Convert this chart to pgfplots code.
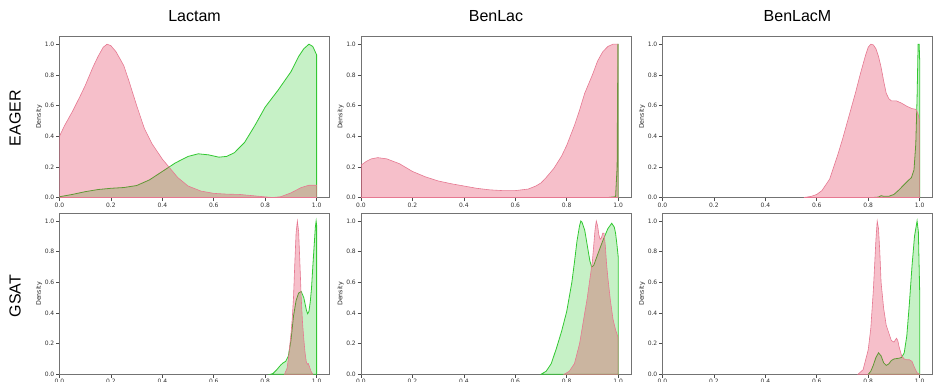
\documentclass[border=0pt]{standalone}
\usepackage{fontspec}
\setmainfont{DejaVu Sans}
\newfontfamily\titlefont{Liberation Sans}
\usepackage{pgfplots}
\pgfplotsset{compat=1.18}
\definecolor{pinkfill}{RGB}{220,20,60}
\definecolor{pinkline}{RGB}{230,120,145}
\definecolor{greenfill}{RGB}{50,205,50}
\definecolor{greenline}{RGB}{50,200,50}
\pgfplotsset{
  kde/.style={
    scale only axis, width=270pt, height=161pt,
    xmin=0, xmax=1.05, ymin=0, ymax=1.05,
    xtick={0,0.2,0.4,0.6,0.8,1}, ytick={0,0.2,0.4,0.6,0.8,1},
    /pgf/number format/assume math mode=true,
    /pgf/number format/fixed, /pgf/number format/fixed zerofill,
    /pgf/number format/precision=1,
    tick align=outside, xtick pos=bottom, ytick pos=left,
    major tick length=3.5pt,
    tick style={black!70, line width=0.6pt},
    axis line style={black!55, line width=0.7pt},
    ticklabel style={font=\fontsize{6}{7}\selectfont, text=black!80},
    yticklabel style={inner sep=1.5pt},
    xticklabel style={inner sep=1.5pt},
    ylabel={Density}, ylabel style={font=\fontsize{6.3}{7.3}\selectfont, text=black!85, yshift=-2.5pt},
  },
  gr/.style={draw=greenline, line width=0.8pt, fill=greenfill, fill opacity=0.28},
  pk/.style={draw=pinkline, line width=0.6pt, fill=pinkfill, fill opacity=0.27},
}
\begin{document}
\begin{tikzpicture}
% Row 1 ---------------------------------------------------------
\begin{axis}[kde, at={(59.5pt,183.5pt)}, anchor=south west]
\addplot[gr] coordinates {(0,0.005)(0.05,0.02)(0.1,0.038)(0.15,0.052)(0.2,0.06)(0.25,0.065)(0.3,0.078)(0.35,0.115)(0.4,0.17)(0.45,0.225)(0.5,0.268)(0.54,0.285)(0.58,0.278)(0.62,0.263)(0.65,0.268)(0.68,0.292)(0.72,0.36)(0.76,0.47)(0.8,0.59)(0.85,0.7)(0.9,0.82)(0.93,0.92)(0.95,0.97)(0.97,1.0)(0.985,0.985)(1.0,0.93)} \closedcycle;
\addplot[pk] coordinates {(0,0.4)(0.02,0.47)(0.05,0.56)(0.08,0.66)(0.1,0.73)(0.13,0.85)(0.15,0.92)(0.17,0.98)(0.185,1.0)(0.2,0.99)(0.22,0.95)(0.25,0.86)(0.27,0.76)(0.3,0.6)(0.33,0.45)(0.36,0.35)(0.4,0.25)(0.43,0.19)(0.46,0.13)(0.5,0.075)(0.55,0.042)(0.6,0.027)(0.65,0.022)(0.7,0.02)(0.75,0.012)(0.8,0.004)(0.83,0.0)(0.86,0.005)(0.9,0.03)(0.94,0.065)(0.97,0.08)(1.0,0.08)} \closedcycle;
\end{axis}
\begin{axis}[kde, at={(361pt,183.5pt)}, anchor=south west]
\addplot[gr] coordinates {(0.96,0)(0.99,0.005)(0.996,0.2)(0.999,1.0)(1.0,1.0)} \closedcycle;
\addplot[pk] coordinates {(0,0.21)(0.02,0.235)(0.04,0.252)(0.065,0.26)(0.1,0.252)(0.15,0.22)(0.2,0.17)(0.25,0.135)(0.3,0.108)(0.35,0.09)(0.4,0.075)(0.45,0.06)(0.5,0.05)(0.55,0.045)(0.6,0.045)(0.65,0.055)(0.68,0.075)(0.7,0.095)(0.72,0.13)(0.75,0.19)(0.78,0.27)(0.8,0.34)(0.83,0.47)(0.85,0.57)(0.87,0.68)(0.9,0.8)(0.92,0.89)(0.94,0.95)(0.96,0.985)(0.98,1.0)(1.0,1.0)} \closedcycle;
\end{axis}
\begin{axis}[kde, at={(662.5pt,183.5pt)}, anchor=south west]
\addplot[gr] coordinates {(0.82,0)(0.84,0.003)(0.85,0.012)(0.86,0.008)(0.88,0.008)(0.9,0.02)(0.92,0.05)(0.94,0.085)(0.955,0.11)(0.968,0.13)(0.978,0.18)(0.985,0.35)(0.99,0.65)(0.994,1.0)(0.998,1.0)(1.0,0.9)} \closedcycle;
\addplot[pk] coordinates {(0.55,0)(0.58,0.008)(0.6,0.02)(0.62,0.045)(0.65,0.12)(0.68,0.27)(0.7,0.38)(0.72,0.5)(0.75,0.68)(0.77,0.81)(0.79,0.93)(0.8,0.98)(0.81,1.0)(0.82,0.995)(0.83,0.97)(0.84,0.92)(0.85,0.85)(0.86,0.76)(0.87,0.68)(0.88,0.645)(0.89,0.63)(0.91,0.63)(0.93,0.615)(0.95,0.595)(0.97,0.58)(0.985,0.575)(0.993,0.55)(1.0,0.5)} \closedcycle;
\end{axis}
% Row 2 ---------------------------------------------------------
\begin{axis}[kde, at={(59.5pt,6.7pt)}, anchor=south west]
\addplot[gr] coordinates {(0.82,0)(0.83,0.005)(0.845,0.03)(0.86,0.06)(0.87,0.075)(0.88,0.085)(0.89,0.12)(0.9,0.22)(0.91,0.38)(0.92,0.48)(0.93,0.53)(0.94,0.54)(0.95,0.5)(0.96,0.42)(0.965,0.395)(0.97,0.41)(0.975,0.47)(0.98,0.56)(0.985,0.7)(0.99,0.83)(0.995,0.96)(0.998,1.0)(1.0,0.97)} \closedcycle;
\addplot[pk] coordinates {(0.875,0)(0.885,0.04)(0.89,0.1)(0.9,0.26)(0.905,0.36)(0.91,0.5)(0.915,0.72)(0.92,0.92)(0.925,1.0)(0.93,0.93)(0.935,0.72)(0.94,0.5)(0.945,0.34)(0.95,0.23)(0.955,0.14)(0.96,0.08)(0.965,0.065)(0.968,0.07)(0.972,0.05)(0.978,0.02)(0.985,0)} \closedcycle;
\end{axis}
\begin{axis}[kde, at={(361pt,6.7pt)}, anchor=south west]
\addplot[gr] coordinates {(0.7,0)(0.72,0.02)(0.74,0.07)(0.76,0.17)(0.78,0.28)(0.8,0.41)(0.82,0.6)(0.83,0.73)(0.84,0.87)(0.85,0.97)(0.855,1.0)(0.86,0.99)(0.87,0.94)(0.88,0.84)(0.89,0.74)(0.897,0.70)(0.905,0.71)(0.92,0.78)(0.94,0.87)(0.96,0.95)(0.975,0.985)(0.985,0.96)(0.99,0.92)(0.995,0.85)(1.0,0.77)} \closedcycle;
\addplot[pk] coordinates {(0.79,0)(0.81,0.02)(0.83,0.07)(0.85,0.2)(0.87,0.4)(0.88,0.5)(0.89,0.62)(0.9,0.74)(0.905,0.84)(0.91,0.94)(0.915,1.0)(0.92,0.97)(0.925,0.91)(0.93,0.88)(0.935,0.89)(0.94,0.92)(0.945,0.92)(0.95,0.84)(0.955,0.72)(0.96,0.63)(0.97,0.48)(0.98,0.36)(0.99,0.29)(1.0,0.24)} \closedcycle;
\end{axis}
\begin{axis}[kde, at={(662.5pt,6.7pt)}, anchor=south west]
\addplot[gr] coordinates {(0.8,0)(0.81,0.02)(0.82,0.06)(0.83,0.11)(0.84,0.14)(0.85,0.12)(0.86,0.075)(0.87,0.058)(0.88,0.068)(0.89,0.09)(0.9,0.1)(0.92,0.105)(0.93,0.11)(0.94,0.14)(0.95,0.25)(0.96,0.46)(0.97,0.7)(0.98,0.9)(0.99,1.0)(0.995,0.93)(1.0,0.55)} \closedcycle;
\addplot[pk] coordinates {(0.76,0)(0.78,0.03)(0.8,0.16)(0.81,0.3)(0.82,0.55)(0.83,0.88)(0.835,1.0)(0.84,0.95)(0.845,0.8)(0.85,0.6)(0.86,0.43)(0.87,0.32)(0.88,0.27)(0.89,0.22)(0.9,0.21)(0.91,0.235)(0.915,0.22)(0.92,0.18)(0.93,0.12)(0.94,0.1)(0.95,0.095)(0.96,0.095)(0.97,0.085)(0.98,0.045)(0.99,0.01)(1.0,0)} \closedcycle;
\end{axis}
% Titles ---------------------------------------------------------
\node[font=\titlefont\fontsize{16}{19}\selectfont] at (194.5pt,365pt) {Lactam};
\node[font=\titlefont\fontsize{16}{19}\selectfont] at (496pt,365pt) {BenLac};
\node[font=\titlefont\fontsize{16}{19}\selectfont] at (797.5pt,365pt) {BenLacM};
\node[font=\titlefont\fontsize{16}{19}\selectfont, rotate=90] at (15pt,263pt) {EAGER};
\node[font=\titlefont\fontsize{16}{19}\selectfont, rotate=90] at (15pt,85pt) {GSAT};
\pgfresetboundingbox
\useasboundingbox (0pt,0pt) rectangle (934pt,381pt);
\end{tikzpicture}
\end{document}
